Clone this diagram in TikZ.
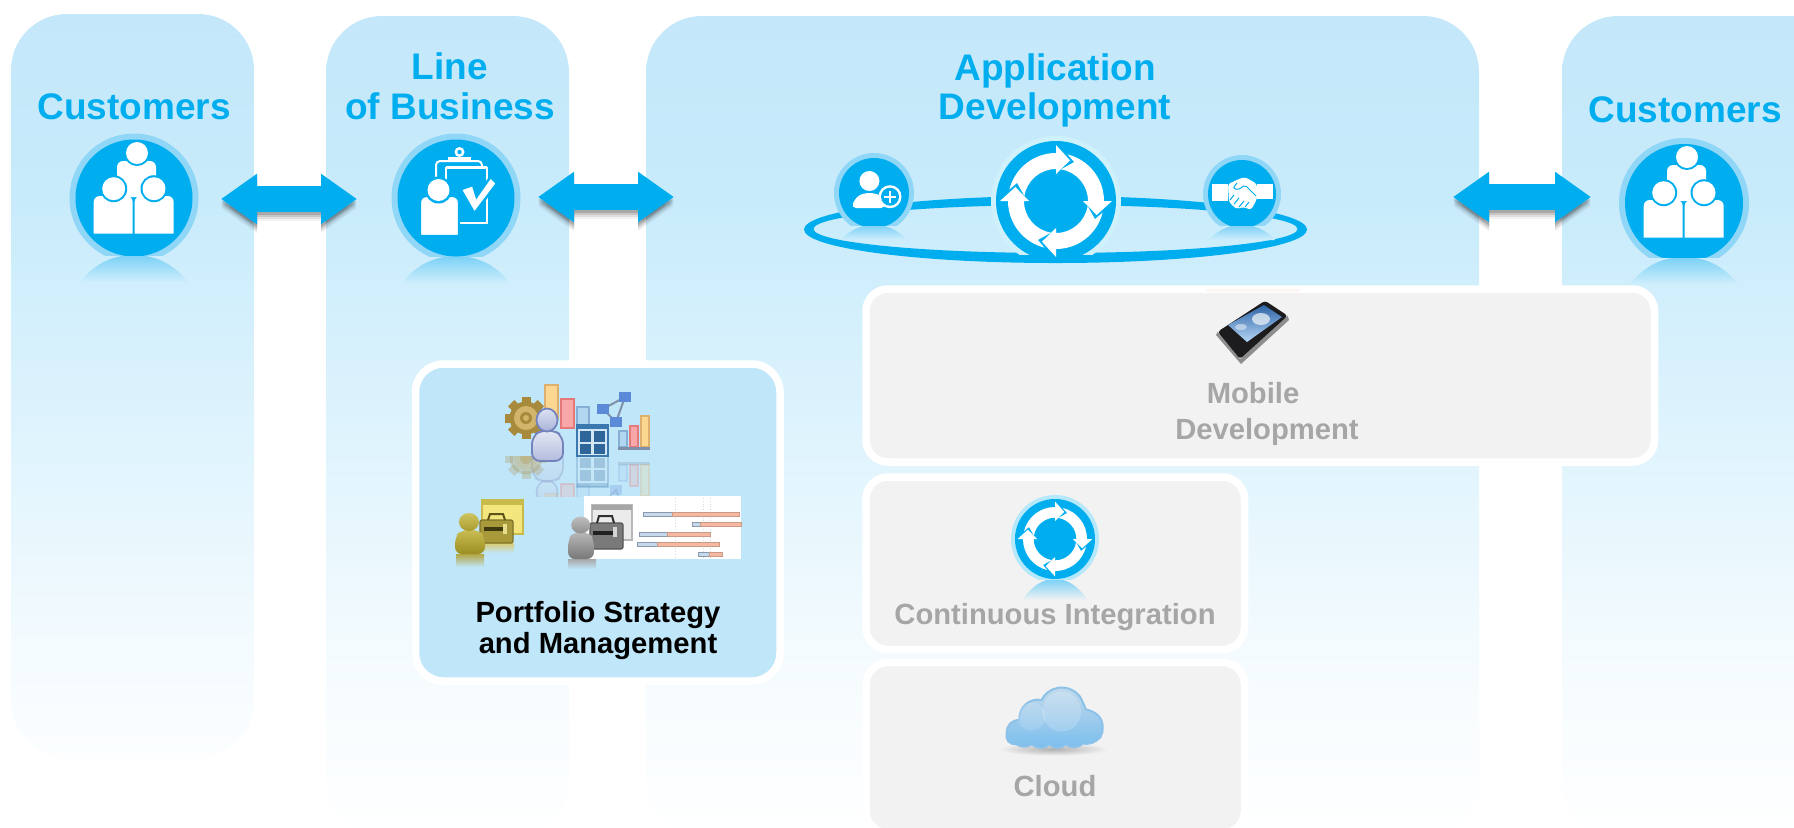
\documentclass[tikz,border=0pt]{standalone}
\usepackage{fontspec}
\setmainfont{Liberation Sans}
\usetikzlibrary{arrows.meta,calc}
\newcommand\hxc[1]{\definecolor{c#1}{HTML}{#1}}
\hxc{8090A8}\hxc{5B8BD8}\hxc{7F90A8}\hxc{DDB070}\hxc{FBD78F}\hxc{E57878}\hxc{F8A8A8}\hxc{86AFD6}\hxc{B0D6F2}
\hxc{D3E6F5}\hxc{3B78B0}\hxc{2F6699}\hxc{E4E8F4}\hxc{B4BCDE}\hxc{7483BC}\hxc{DDE2F2}\hxc{A8B2D8}
\hxc{B3A644}\hxc{D8CC70}\hxc{F3E67E}\hxc{C9BA4C}\hxc{A89A3A}\hxc{7E7228}\hxc{5E5418}\hxc{3F3910}\hxc{E6DC8A}
\hxc{C8BC52}\hxc{9C8E22}\hxc{CFC460}\hxc{A99C30}\hxc{D8D8D8}\hxc{C5D8EC}\hxc{8A98AC}\hxc{F6B8A0}\hxc{C89A88}
\hxc{A8A8A8}\hxc{EBEBEB}\hxc{B8B8B8}\hxc{A6A6A6}\hxc{7A7A7A}\hxc{555555}\hxc{303030}\hxc{202020}\hxc{D5D5D5}
\hxc{787878}\hxc{BEBEBE}\hxc{909090}\hxc{FDF6F2}\hxc{8E8E8E}\hxc{1C1C1E}\hxc{2F65A8}\hxc{B4D6F4}\hxc{B0B0B0}
\hxc{C9DDEB}\hxc{7ABDEE}\hxc{8CC2EA}\hxc{86C4EE}\hxc{CFEEFC}
\definecolor{cyanblue}{HTML}{00AEEF}
\definecolor{panelA}{HTML}{C4E8FA}
\definecolor{panelB}{HTML}{C8EBFB}
\definecolor{panelC}{HTML}{D2EFFC}
\definecolor{panelD}{HTML}{E5F6FD}
\definecolor{panelE}{HTML}{F4FBFE}
\definecolor{panelF}{HTML}{FCFEFF}
\definecolor{portfill}{HTML}{C0E6F9}
\definecolor{grayfill}{HTML}{F2F2F2}
\definecolor{graytxt}{HTML}{A6A6A6}
\definecolor{haloA}{HTML}{8FD6F7}
\definecolor{haloB}{HTML}{CFF1FC}
\definecolor{haloC}{HTML}{B4E8FA}
\definecolor{reflA}{HTML}{7AD0F6}
\definecolor{golddark}{HTML}{A88A3C}
\definecolor{goldlite}{HTML}{D2B56A}
\pgfdeclareverticalshading{panelfade}{100bp}{color(0bp)=(white);color(25bp)=(white);color(36.3bp)=(panelE);color(45.4bp)=(panelD);color(57.6bp)=(panelC);color(63.7bp)=(panelB);color(75bp)=(panelA);color(100bp)=(panelA)}
\pgfdeclareverticalshading{panelfadeshort}{100bp}{color(0bp)=(panelF);color(25bp)=(panelF);color(32.2bp)=(panelE);color(42.3bp)=(panelD);color(55.8bp)=(panelC);color(62.5bp)=(panelB);color(75bp)=(panelA);color(100bp)=(panelA)}
\tikzset{
 x=0.5pt,y=-0.5pt,
 panel/.style={shade,shading=panelfade,rounded corners=28pt,inner sep=0pt,outer sep=0pt},
 whitebox/.style={draw=white,line width=3.75pt,inner sep=0pt,outer sep=0pt},
 graybox/.style={whitebox,fill=grayfill,rounded corners=11pt},
 portbox/.style={whitebox,fill=portfill,rounded corners=14pt},
 titletext/.style={text=cyanblue,anchor=base,inner sep=0pt,font=\fontsize{18.5}{23}\bfseries\selectfont},
 graytext/.style={text=graytxt,anchor=base,inner sep=0pt,font=\fontsize{14.6}{18}\bfseries\selectfont},
 blacktext/.style={text=black,anchor=base,inner sep=0pt,font=\fontsize{14.6}{18}\bfseries\selectfont},
 dblarrow/.style={line width=13pt,{Triangle[length=18pt,width=24pt]}-{Triangle[length=18pt,width=24pt]}},
}
% disc with halo, cut flat at the bottom: cx cy r halo flat halocolour
\newcommand\discicon[6]{%
 \begin{scope}
 \clip (#1-#3-#4-1,#2-#3-#4-1) rectangle (#1+#3+#4+1,#5);
 \fill[#6] (#1,#2) circle (#3+#4);
 \fill[cyanblue] (#1,#2) circle (#3);
 \end{scope}}
% reflection arch: cx flat halfwidth height
\newcommand\archrefl[4]{%
 \shade[top color=reflA,bottom color=cCFEEFC] (#1-#3,#2+#4) .. controls (#1-#3*0.7,#2+#4*0.25) and (#1-#3*0.35,#2) .. (#1,#2) .. controls (#1+#3*0.35,#2) and (#1+#3*0.7,#2+#4*0.25) .. (#1+#3,#2+#4) -- cycle;}
\newcommand\peopleicon[2]{%
 \begin{scope}[shift={(#1,#2)}]
 \fill[white,rounded corners=3pt] (-17,-2) -- (-17,-38) -- (22,-38) -- (22,-2) -- cycle;
 \fill[cyanblue] (3,-46) circle (13);
 \fill[white] (3,-46) circle (11);
 \fill[white] (-40.3,34.5) [rounded corners=3pt] -- (-40.3,-3) -- (-1.3,-3) [sharp corners] -- (-1.3,34.5) -- cycle;
 \fill[white] (39.7,34.5) [rounded corners=3pt] -- (39.7,-3) -- (0.7,-3) [sharp corners] -- (0.7,34.5) -- cycle;
 \fill[cyanblue] (-20.3,-10.3) circle (13.5);
 \fill[cyanblue] (20,-10.3) circle (13.5);
 \fill[white] (-20.3,-10.3) circle (11.5);
 \fill[white] (20,-10.3) circle (11.5);
 \end{scope}}
\newcommand\cycleicon[3]{%
 \begin{scope}[shift={(#1,#2)},scale=#3]
 \foreach \r in {0,90,180,270}{
 \fill[white,rotate=\r] (-90:32) -- (-90:27) -- (-71:43) -- (-90:56) -- (-90:48)
   arc[start angle=-90,end angle=-166,radius=48] -- (-155:43) -- (-171:32)
   arc[start angle=-171,end angle=-90,radius=32] -- cycle;}
 \end{scope}}
\newcommand\gearpart{%
 \foreach \a in {0,45,...,315}{\fill[golddark,rotate around={\a:(526,418)}] (521.5,397) rectangle (530.5,405);}
 \fill[golddark] (526,418) circle (16.5);
 \fill[goldlite] (526,418) circle (12);
 \fill[golddark] (526,418) circle (6);
 \fill[goldlite] (526,418) circle (3);}
\newcommand\barbox[6]{\fill[#6,draw=#5,line width=0.8pt] (#1,#2) rectangle (#3,#4);}
\newcommand\chartpart{%
 \barbox{545}{385}{558}{418}{cDDB070}{cFBD78F}
 \barbox{561}{399}{574}{428}{cE57878}{cF8A8A8}
 \barbox{577}{407}{589}{427}{c86AFD6}{cB0D6F2}
 \draw[c8090A8,line width=1pt] (603,409) -- (625,397) -- (616,422) -- cycle;
 \fill[c5B8BD8] (597,404) rectangle (609,414);
 \fill[c5B8BD8] (619,392) rectangle (631,402);
 \fill[c5B8BD8] (610,417) rectangle (622,427);
 \barbox{619}{431}{627}{447}{c86AFD6}{cB0D6F2}
 \barbox{630}{426}{638}{447}{cE57878}{cF8A8A8}
 \barbox{641}{416}{649}{447}{cDDB070}{cFBD78F}
 \fill[c7F90A8] (618,447) rectangle (650,450);}
\newcommand\gridpart{%
 \fill[cD3E6F5,draw=c3B78B0,line width=0.9pt] (577,425) rectangle (608,456);
 \fill[c3B78B0] (577,425) rectangle (608,429);
 \fill[c2F6699] (580,431) rectangle (591,442);
 \fill[c2F6699] (594,431) rectangle (605,442);
 \fill[c2F6699] (580,444) rectangle (591,454);
 \fill[c2F6699] (594,444) rectangle (605,454);}
\newcommand\perspart{%
 \shade[top color=cE4E8F4,bottom color=cB4BCDE,draw=c7483BC,line width=0.9pt,rounded corners=4pt] (532,461) -- (532,436) -- (542,430) -- (553,430) -- (563,436) -- (563,461) -- cycle;
 \shade[top color=cDDE2F2,bottom color=cA8B2D8,draw=c7483BC,line width=0.9pt] (547,420) ellipse (10.5 and 11.5);}
\begin{document}
\begin{tikzpicture}
\path[use as bounding box,clip] (0,0) rectangle (1794,827);
\fill[white] (0,0) rectangle (1794,827);
% panels
\node[panel,shading=panelfadeshort,minimum width=121.5pt,minimum height=371.5pt] (custA) at (132.5,385.5) {};
\node[panel,minimum width=121.5pt,minimum height=410.5pt] (lob) at (447.5,426.5) {};
\node[panel,minimum width=416.5pt,minimum height=410.5pt] (appdev) at (1062.5,426.5) {};
\node[panel,minimum width=180pt,minimum height=410.5pt] (custB) at (1742,426.5) {};
% arrows
\coordinate (aL) at (221,199); \coordinate (aR) at (357,199);
\coordinate (bL) at (538,197); \coordinate (bR) at (674,197);
\coordinate (cL) at (1453,197); \coordinate (cR) at (1591,197);
\foreach \s/\o in {4.5/.05,3.5/.08,2.5/.11,1.5/.15}{
 \draw[dblarrow,black,opacity=\o] ([yshift=-\s pt]aL) -- ([yshift=-\s pt]aR);
 \draw[dblarrow,black,opacity=\o] ([yshift=-\s pt]bL) -- ([yshift=-\s pt]bR);
 \draw[dblarrow,black,opacity=\o] ([yshift=-\s pt]cL) -- ([yshift=-\s pt]cR);}
\draw[dblarrow,cyanblue] (aL) -- (aR);
\draw[dblarrow,cyanblue] (bL) -- (bR);
\draw[dblarrow,cyanblue] (cL) -- (cR);
% titles
\node[titletext] (tcustA) at (134,119) {Customers};
\node[titletext] (tline) at (450,79) {Line};
\node[titletext] (tbus) at (450,119) {of Business};
\node[titletext] (tapp) at (1055,80) {Application};
\node[titletext] (tdev) at (1055,119) {Development};
\node[titletext] (tcustB) at (1685,122) {Customers};
% customers icons
\archrefl{134}{255}{54}{27}
\discicon{134}{198}{58.5}{6}{255}{haloA}
\peopleicon{134}{199}
\archrefl{1684}{257}{54}{27}
\discicon{1684}{203}{59}{6}{257}{haloA}
\peopleicon{1684}{203}
% line of business icon
\archrefl{456}{256}{54}{27}
\discicon{456}{198}{58.5}{6}{256}{haloA}
\begin{scope}[shift={(456,198)}]
 \draw[white,line width=1pt,rounded corners=2pt] (-20,-8) -- (-20,-37) -- (26,-37) -- (26,-26);
 \draw[white,line width=1.1pt,fill=cyanblue] (-10,-30) rectangle (31,25);
 \fill[white] (-10,-32) rectangle (31,-29);
 \fill[white] (-8,-41) rectangle (15,-36);
 \fill[white] (3.5,-46) circle (5);
 \fill[cyanblue] (3.5,-46) circle (2.2);
 \fill[white,draw=cyanblue,line width=1.2pt,line join=miter] (4.6,-8.7) -- (17,-13) -- (20.6,-1.3) -- (34.4,-21) -- (41,-14.7) -- (18.4,15.3) -- cycle;
 \fill[white,draw=cyanblue,line width=1.2pt] (-36,38) [rounded corners=3pt] -- (-36,-2) -- (3,-2) [sharp corners] -- (3,38) -- cycle;
 \fill[cyanblue] (-17.5,-8) circle (13.5);
 \fill[white] (-17.5,-8) circle (11);
\end{scope}
% application development ring and icons
\fill[cyanblue,even odd rule] (1055.5,229.5) ellipse (251.5 and 33.5) (1055.5,229) ellipse (242 and 24);
\archrefl{874}{225}{33}{15}
\discicon{874}{193}{35}{5}{225}{haloA}
\begin{scope}[shift={(874,193)}]
 \fill[white] (-4.6,-12) circle (10);
 \fill[white,rounded corners=2.5pt] (-23,15) -- (-18,4) -- (-10,0) -- (1,0) -- (9,4) -- (12,15) -- cycle;
 \fill[white] (16,3.7) circle (11.5);
 \fill[cyanblue] (16,3.7) circle (9);
 \fill[white] (14.8,-2.5) rectangle (17.2,10);
 \fill[white] (9.8,2.5) rectangle (22.2,4.9);
\end{scope}
\archrefl{1242}{225}{33}{15}
\discicon{1242}{194}{34}{5}{225}{haloA}
\begin{scope}[shift={(1242,194)}]
 \fill[white] (-30,-10) rectangle (-14,7);
 \fill[white] (15,-10) rectangle (31,5);
 \fill[white,rounded corners=1.5pt] (-14,-10) -- (-3,-15) -- (3,-17) -- (15,-10) -- (15,5) -- (9,16) -- (2,13) -- (-6,15) -- (-13,8) -- cycle;
 \draw[cyanblue,line width=0.5pt,rounded corners=1pt] (-5,-11) -- (-9,-6) -- (-4,-4) -- (3,-9) -- (14,2);
 \draw[cyanblue,line width=0.5pt] (-12,6) -- (-8,1) (-8,10) -- (-3,4) (-3,13) -- (2,7) (3,13) -- (7,8);
\end{scope}
\discicon{1056}{201}{60}{5}{254}{haloB}
\cycleicon{1056}{201}{1}
% portfolio box
\node[portbox,minimum width=182.25pt,minimum height=158.5pt] (portfolio) at (597.75,522.5) {};
\begin{scope}
 \clip (500,456) rectangle (670,496);
 \begin{scope}[opacity=.25,shift={(0,912)},yscale=-1]
  \chartpart \gridpart \perspart
 \end{scope}
 \begin{scope}[opacity=.25,shift={(0,876)},yscale=-1]
  \gearpart
 \end{scope}
\end{scope}
\gearpart \chartpart \perspart \gridpart
% gold person and case
\shade[top color=cB3A644,bottom color=portfill] (456,554) rectangle (484,567);
\shade[top color=cD8CC70,bottom color=portfill] (484,543) rectangle (514,553);
\fill[cF3E67E,draw=cC9BA4C,line width=0.6pt] (482,500) rectangle (523,534);
\fill[cC9BA4C] (482,500) rectangle (523,505);
\fill[cA89A3A,draw=c7E7228,line width=0.6pt,rounded corners=1pt] (480,520) rectangle (513,543);
\draw[c5E5418,line width=1pt] (488,520) -- (490,514) -- (503,514) -- (505,520);
\fill[c3F3910] (484,527) rectangle (505,531);
\fill[cE6DC8A] (503,524) rectangle (507,534);
\shade[top color=cC8BC52,bottom color=c9C8E22,rounded corners=3.5pt] (455,554) -- (455,537) -- (461,530) -- (479,530) -- (485,537) -- (485,554) -- cycle;
\shade[top color=cCFC460,bottom color=cA99C30] (469,522) ellipse (10 and 9);
% gantt and grey person
\fill[white] (584,496) rectangle (741,559);
\foreach \x in {675,703,710}{\draw[cD8D8D8,line width=0.4pt,densely dotted] (\x,498) -- (\x,558);}
\foreach \a/\b/\c/\y in {643/672/739/512,692/700/741/522,639/667/710/532,637/657/719/542,698/709/722/552}{
 \fill[cC5D8EC,draw=c8A98AC,line width=0.4pt] (\a,\y) rectangle (\b,\y+4);
 \fill[cF6B8A0,draw=cC89A88,line width=0.4pt] (\b,\y) rectangle (\c,\y+4);}
\shade[top color=cA8A8A8,bottom color=portfill] (568,559) rectangle (596,569);
\fill[cEBEBEB,draw=cB8B8B8,line width=0.6pt] (592,505) rectangle (632,540);
\fill[cA6A6A6] (592,505) rectangle (632,510);
\fill[c7A7A7A,draw=c555555,line width=0.6pt,rounded corners=1pt] (590,523) rectangle (623,549);
\draw[c303030,line width=1pt] (597,523) -- (599,516) -- (612,516) -- (614,523);
\fill[c202020] (593,531) rectangle (615,535);
\fill[cD5D5D5] (613,527) rectangle (617,537);
\shade[top color=cB8B8B8,bottom color=c787878,rounded corners=3.5pt] (568,559) -- (568,540) -- (573,532) -- (589,532) -- (594,540) -- (594,559) -- cycle;
\shade[top color=cBEBEBE,bottom color=c909090] (580.7,525) ellipse (9.5 and 8.5);
\node[blacktext] (portA) at (598,622) {Portfolio Strategy};
\node[blacktext] (portB) at (598,653) {and Management};
% mobile box
\node[graybox,minimum width=394.25pt,minimum height=86.5pt] (mobile) at (1260.25,375.5) {};
\fill[cFDF6F2] (1206,289) rectangle (1300,292);
\fill[c8E8E8E] (1217.7,331.7) -- (1240,359) -- (1287.7,315.7) -- (1289,320) -- (1241,364) -- (1216,335) -- cycle;
\fill[c1C1C1E,rounded corners=1.5pt] (1217.7,331.7) -- (1265,300.7) -- (1287.7,315.7) -- (1240,359) -- cycle;
\shade[top color=c2F65A8,bottom color=cB4D6F4] (1228,325) -- (1264,305) -- (1282,317) -- (1247,342) -- cycle;
\fill[white,opacity=.65] (1261,319) ellipse (9 and 6);
\fill[white,opacity=.45] (1241,327) ellipse (6 and 3);
\node[graytext] (mobA) at (1253,403) {Mobile};
\node[graytext] (mobB) at (1267,439) {Development};
% CI box
\node[graybox,minimum width=189.25pt,minimum height=86.25pt] (ci) at (1055.25,563.25) {};
\shade[top color=reflA,bottom color=grayfill] (1055-33,600) .. controls (1055-22,585) and (1055-12,579) .. (1055,579) .. controls (1055+12,579) and (1055+22,585) .. (1055+33,600) -- cycle;
\discicon{1055}{539}{40}{4}{579}{haloC}
\cycleicon{1055}{539}{0.667}
\node[graytext] (citext) at (1055,624) {Continuous Integration};
% cloud box
\node[graybox,minimum width=189.25pt,minimum height=85.25pt] (cloudbox) at (1055.25,747.75) {};
\begin{scope}[shift={(990,675)},scale=0.3333]
 \shade[inner color=cB0B0B0,outer color=grayfill] (190,222) ellipse (165 and 20);
 \shade[top color=cC9DDEB,bottom color=c7ABDEE,draw=c8CC2EA,line width=1pt]
  (50,175) .. controls (50,150) and (65,135) .. (88,135)
  .. controls (85,95) and (120,68) .. (155,75)
  .. controls (170,38) and (232,18) .. (270,65)
  .. controls (280,85) and (285,95) .. (287,103)
  .. controls (320,110) and (340,130) .. (338,160)
  .. controls (340,195) and (300,212) .. (280,205)
  .. controls (265,220) and (240,220) .. (228,208)
  .. controls (215,222) and (190,222) .. (178,208)
  .. controls (165,222) and (140,222) .. (125,208)
  .. controls (110,220) and (90,215) .. (80,208)
  .. controls (60,210) and (45,195) .. (50,175) -- cycle;
 \fill[white,opacity=.18] (215,110) ellipse (58 and 60);
 \fill[white,opacity=.14] (125,125) ellipse (42 and 42);
 \fill[c86C4EE,opacity=.55] (52,180) -- (335,180) -- (335,190) -- (280,204) -- (80,206) -- (52,190) -- cycle;
\end{scope}
\node[graytext] (cloudtext) at (1055,796) {Cloud};
\end{tikzpicture}
\end{document}
